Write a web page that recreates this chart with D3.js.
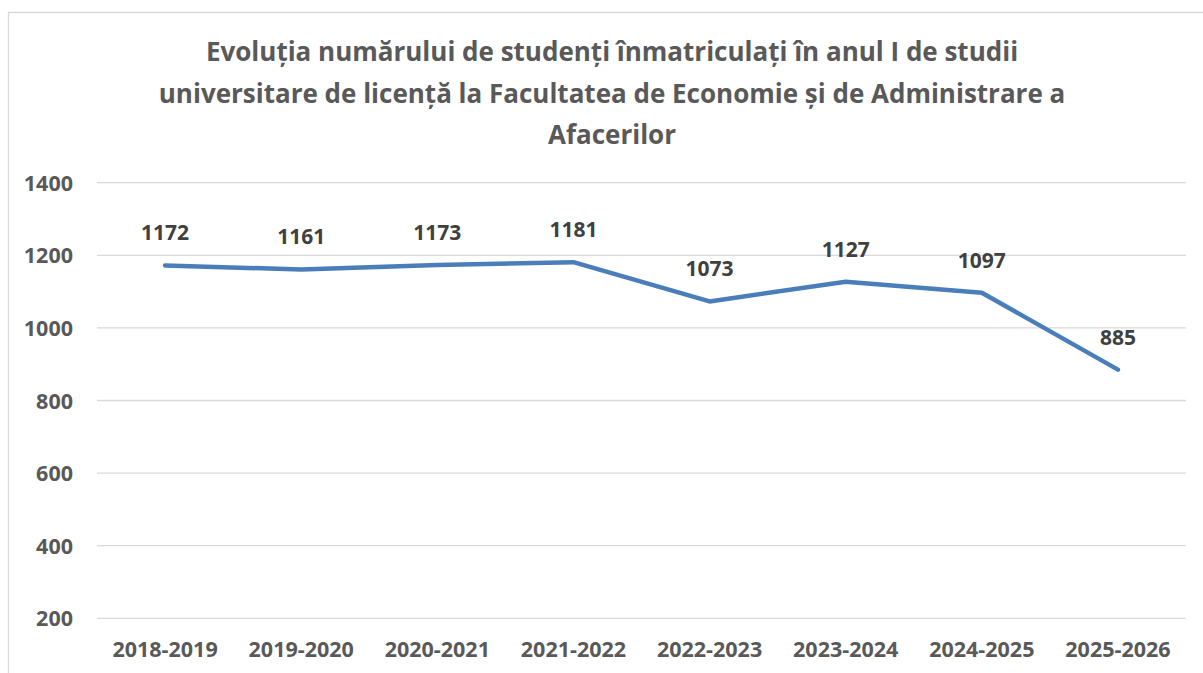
<!DOCTYPE html>
<html>
<head>
<meta charset="utf-8">
<script src="https://cdn.jsdelivr.net/npm/d3@7"></script>
<style>
  body { margin: 0; background: #fff; }
  svg { display: block; font-family: "Open Sans", "Noto Sans", sans-serif; }
  .grid line { stroke: #d9d9d9; stroke-width: 1.3; }
  .tick-label { fill: #595959; font-weight: bold; font-size: 21.5px; }
  .value-label { fill: #404040; font-weight: bold; font-size: 21px; }
  .title { fill: #595959; font-weight: bold; font-size: 26px; }
</style>
</head>
<body>
<div id="chart"></div>
<script>
var years = ["2018-2019", "2019-2020", "2020-2021", "2021-2022",
             "2022-2023", "2023-2024", "2024-2025", "2025-2026"];
var students = [1172, 1161, 1173, 1181, 1073, 1127, 1097, 885];
var yTicks = [200, 400, 600, 800, 1000, 1200, 1400];
var titleLines = [
  "Evoluția numărului de studenți înmatriculați în anul I de studii",
  "universitare de licență la Facultatea de Economie și de Administrare a",
  "Afacerilor"
];

var width = 1203, height = 673;
var plot = { left: 97, right: 1186, top: 182.7, bottom: 618.3 };

var svg = d3.select("#chart").append("svg")
  .attr("width", width)
  .attr("height", height);

// chart frame (only top and left edges are visible)
svg.append("line")
  .attr("x1", 8).attr("x2", width).attr("y1", 12.5).attr("y2", 12.5)
  .attr("stroke", "#d9d9d9").attr("stroke-width", 1.3);
svg.append("line")
  .attr("x1", 8.5).attr("x2", 8.5).attr("y1", 12).attr("y2", height)
  .attr("stroke", "#d9d9d9").attr("stroke-width", 1.3);

var x = d3.scaleBand()
  .domain(years)
  .range([plot.left, plot.right]);

var y = d3.scaleLinear()
  .domain([200, 1400])
  .range([plot.bottom, plot.top]);

// gridlines
svg.append("g")
  .attr("class", "grid")
  .selectAll("line")
  .data(yTicks)
  .join("line")
  .attr("x1", plot.left)
  .attr("x2", plot.right)
  .attr("y1", d => y(d))
  .attr("y2", d => y(d));

// y tick labels
svg.append("g")
  .selectAll("text")
  .data(yTicks)
  .join("text")
  .attr("class", "tick-label")
  .attr("x", 73)
  .attr("y", d => y(d) + 8)
  .attr("text-anchor", "end")
  .text(d => d);

// x labels
svg.append("g")
  .selectAll("text")
  .data(years)
  .join("text")
  .attr("class", "tick-label")
  .attr("x", d => x(d) + x.bandwidth() / 2)
  .attr("y", 656.5)
  .attr("text-anchor", "middle")
  .text(d => d);

var points = years.map((yr, i) => ({ year: yr, value: students[i] }));

var line = d3.line()
  .x(d => x(d.year) + x.bandwidth() / 2)
  .y(d => y(d.value));

svg.append("path")
  .datum(points)
  .attr("d", line)
  .attr("fill", "none")
  .attr("stroke", "#4a7ebb")
  .attr("stroke-width", 4.5)
  .attr("stroke-linejoin", "round")
  .attr("stroke-linecap", "round");

// data labels
svg.append("g")
  .selectAll("text")
  .data(points)
  .join("text")
  .attr("class", "value-label")
  .attr("x", d => x(d.year) + x.bandwidth() / 2)
  .attr("y", d => y(d.value) - 25)
  .attr("text-anchor", "middle")
  .text(d => d.value);

// title
svg.append("g")
  .selectAll("text")
  .data(titleLines)
  .join("text")
  .attr("class", "title")
  .attr("x", 612)
  .attr("y", (d, i) => 61 + i * 41.5)
  .attr("text-anchor", "middle")
  .text(d => d);
</script>
</body>
</html>
